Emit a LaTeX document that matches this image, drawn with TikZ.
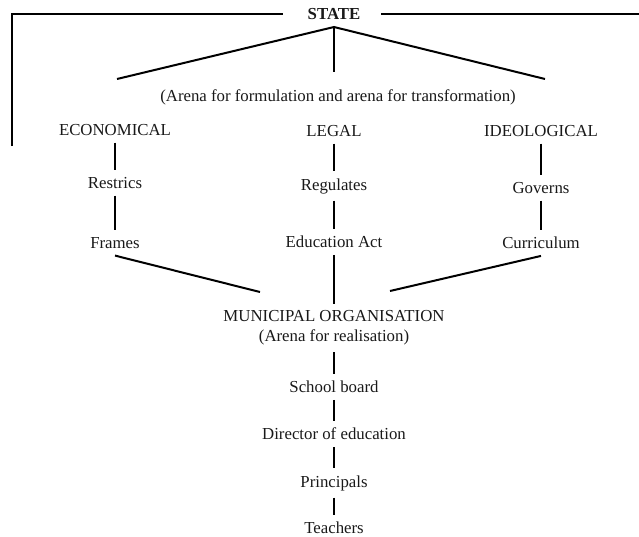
\documentclass[tikz,border=0pt]{standalone}
\usepackage{fontspec}
\setmainfont{Liberation Serif}
\usepackage{tikz}
\usetikzlibrary{calc,positioning}

\begin{document}
\begin{tikzpicture}
[x=1pt,y=-1pt,line width=2pt,every node/.style={inner sep=6pt,
	font=\fontsize{16.8}{20}\selectfont,text=black!90,align=center}]
\useasboundingbox (0,0) rectangle (639,536);
% top
\node[font=\fontsize{16.8}{20}\selectfont\bfseries] (state) at (334,14) {STATE};
\coordinate (tl) at (12,14);
\coordinate (tlb) at (12,146);
\coordinate (tlr) at (283,14);
\coordinate (trl) at (381,14);
\coordinate (tr) at (639,14);
\coordinate (apex) at (334,27);
\coordinate (al) at (117,79);
\coordinate (am) at (334,72);
\coordinate (ar) at (545,79);
\node (arena) at (338,97) {(Arena for formulation and arena for transformation)};
% three columns
\node (econ) at (115,130) {ECONOMICAL};
\node (legal) at (334,131) {LEGAL};
\node (ideo) at (541,131) {IDEOLOGICAL};
\node (restrics) at (115,183) {Restrics};
\node (regulates) at (334,186) {Regulates};
\node (governs) at (541,188) {Governs};
\node (frames) at (115,243) {Frames};
\node (eduact) at (334,242) {Education Act};
\node (curric) at (541,243) {Curriculum};
% municipal level
\coordinate (ml) at (260,292);
\coordinate (mr) at (390,291);
\node (muni) at (334,328) {MUNICIPAL ORGANISATION\\(Arena for realisation)};
\node (board) at (334,387) {School board};
\node (director) at (334,434) {Director of education};
\node (principals) at (334,483) {Principals};
\node (teachers) at (334,528) {Teachers};

\draw (tlb) -- (tl) -- (tlr);
\draw (trl) -- (tr);
\draw (al) -- (apex) -- (ar);
\draw (apex) -- (am);
\draw (frames.south) -- (ml);
\draw (curric.south) -- (mr);
\path
\foreach \startNode/\endNode in {econ/restrics,restrics/frames,legal/regulates,
	regulates/eduact,ideo/governs,governs/curric,eduact/muni,muni/board,
	board/director,director/principals,principals/teachers}
{
	(\startNode) edge (\endNode)
};
\end{tikzpicture}
\end{document}
